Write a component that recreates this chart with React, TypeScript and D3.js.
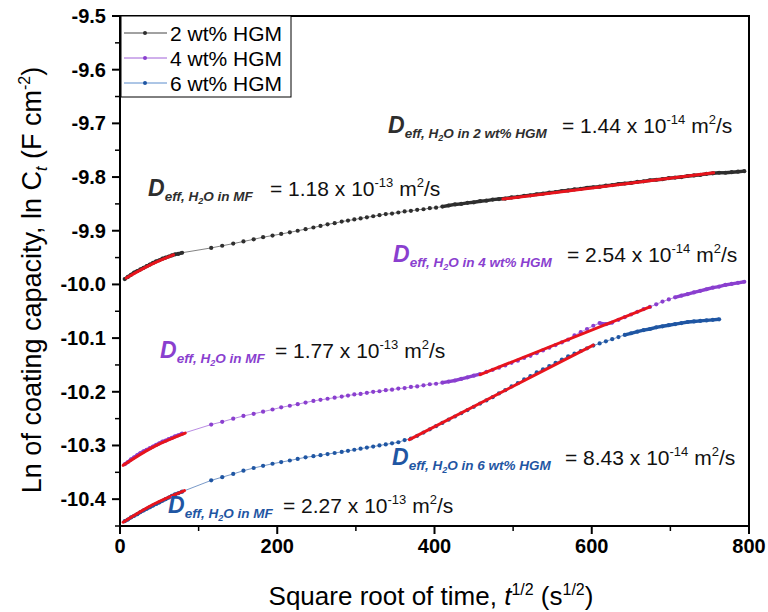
import React from "react";
import * as d3 from "d3";

const sqrtT = [
  6, 10, 14, 18, 22, 26, 30, 34, 38, 42, 46, 50, 54, 58, 62, 66, 70, 74, 79,
  116, 130, 144, 157, 170, 182, 194, 205, 216, 226, 236, 246, 255, 264, 273, 282, 290, 298, 306, 314,
  322, 330, 338, 346, 354, 362, 370, 378, 386, 394, 402, 410, 418, 426, 434, 442, 450,
  458, 466, 474, 482, 490, 498, 506, 514, 522, 530, 538, 546, 554, 562, 570, 578, 586, 594, 602, 610,
  618, 626, 634, 642, 650, 658, 666, 674, 682, 690, 698, 706, 714, 722, 730, 738, 746, 754, 762, 770,
  778, 786, 794,
];

const lnC2 = [
  -9.99, -9.986, -9.982, -9.978, -9.975, -9.972, -9.969, -9.966, -9.963, -9.96, -9.957, -9.955, -9.952,
  -9.95, -9.948, -9.946, -9.944, -9.943, -9.941,
  -9.932, -9.928, -9.924, -9.92, -9.916, -9.912, -9.909, -9.906, -9.903, -9.9, -9.897, -9.894, -9.891,
  -9.888, -9.886, -9.883, -9.881, -9.879, -9.877, -9.875, -9.873, -9.871, -9.869, -9.868, -9.866, -9.864,
  -9.863, -9.861, -9.86, -9.858, -9.857, -9.855, -9.853, -9.851, -9.85, -9.848, -9.847,
  -9.845, -9.844, -9.842, -9.841, -9.84, -9.838, -9.837, -9.835, -9.834, -9.832, -9.831, -9.829, -9.828,
  -9.826, -9.825, -9.823, -9.822, -9.82, -9.819, -9.818, -9.816, -9.815, -9.813, -9.812, -9.811, -9.809,
  -9.808, -9.806, -9.805, -9.804, -9.802, -9.801, -9.8, -9.798, -9.797, -9.796, -9.794, -9.793, -9.792,
  -9.792, -9.791, -9.79, -9.789,
];

const lnC4 = [
  -10.335, -10.331, -10.326, -10.322, -10.318, -10.314, -10.311, -10.308, -10.305, -10.302, -10.299,
  -10.296, -10.293, -10.291, -10.288, -10.286, -10.283, -10.281, -10.278,
  -10.261, -10.256, -10.25, -10.245, -10.241, -10.237, -10.233, -10.229, -10.226, -10.223, -10.22, -10.217,
  -10.215, -10.213, -10.211, -10.209, -10.207, -10.205, -10.204, -10.202, -10.2, -10.199, -10.197, -10.196,
  -10.194, -10.193, -10.191, -10.19, -10.188, -10.186, -10.185, -10.183, -10.181, -10.179, -10.176,
  -10.173, -10.17,
  -10.167, -10.163, -10.159, -10.155, -10.151, -10.146, -10.142, -10.137, -10.133, -10.128, -10.123,
  -10.118, -10.113, -10.108, -10.103, -10.095, -10.089, -10.083, -10.077, -10.072, -10.074, -10.071,
  -10.066, -10.061, -10.056, -10.051, -10.046, -10.042, -10.037, -10.032, -10.028, -10.024, -10.021,
  -10.018, -10.015, -10.012, -10.009, -10.006, -10.004, -10.001, -9.999, -9.997, -9.995,
];

const lnC6 = [
  -10.441, -10.438, -10.434, -10.431, -10.428, -10.424, -10.421, -10.418, -10.415, -10.412, -10.409,
  -10.406, -10.403, -10.4, -10.397, -10.394, -10.391, -10.389, -10.386,
  -10.365, -10.359, -10.353, -10.347, -10.342, -10.338, -10.334, -10.331, -10.328, -10.325, -10.322,
  -10.32, -10.318, -10.316, -10.314, -10.312, -10.31, -10.308, -10.306, -10.304, -10.302, -10.3, -10.298,
  -10.296, -10.294, -10.29, -10.287, -10.282, -10.276, -10.27, -10.264, -10.258, -10.252, -10.246, -10.24,
  -10.234, -10.228,
  -10.222, -10.216, -10.21, -10.203, -10.197, -10.19, -10.184, -10.177, -10.171, -10.164, -10.158, -10.152,
  -10.146, -10.14, -10.134, -10.129, -10.124, -10.119, -10.114, -10.11, -10.106, -10.102, -10.098,
  -10.094, -10.091, -10.088, -10.085, -10.083, -10.08, -10.078, -10.076, -10.074, -10.072, -10.07,
  -10.069, -10.068, -10.067, -10.066, -10.065,
];

// red linear-fit segments: [x list], [y list]
const fitX = [
  [8, 38, 68],
  [487, 755],
  [4, 42, 83],
  [458, 674],
  [4, 42, 82],
  [368, 602],
];
const fitY = [
  [-9.988, -9.964, -9.945],
  [-9.841, -9.792],
  [-10.337, -10.303, -10.277],
  [-10.168, -10.042],
  [-10.443, -10.41, -10.384],
  [-10.289, -10.113],
];

const seriesNames = ["2 wt% HGM", "4 wt% HGM", "6 wt% HGM"];
const seriesColors = ["#2e2e2e", "#8a3fcf", "#1f56a3"];
const legendLineColors = ["#444444", "#a060d8", "#5a8ccc"];

const xTicks = [0, 200, 400, 600, 800];
const xTickLabels = ["0", "200", "400", "600", "800"];
const yTicks = [-9.5, -9.6, -9.7, -9.8, -9.9, -10.0, -10.1, -10.2, -10.3, -10.4];
const yTickLabels = ["-9.5", "-9.6", "-9.7", "-9.8", "-9.9", "-10.0", "-10.1", "-10.2", "-10.3", "-10.4"];

// annotations
const annSub = ["2 wt% HGM", "MF", "4 wt% HGM", "MF", "6 wt% HGM", "MF"];
const annMant = ["1.44", "1.18", "2.54", "1.77", "8.43", "2.27"];
const annExp = ["-14", "-13", "-14", "-13", "-14", "-13"];
const annSeries = [0, 0, 1, 1, 2, 2];

const FONT = "'Liberation Sans', Arial, Helvetica, sans-serif";

const annPos = [
  { x: 388, y: 133, eq: 562 },
  { x: 148, y: 196, eq: 270 },
  { x: 393, y: 262, eq: 567 },
  { x: 160, y: 358, eq: 275 },
  { x: 392, y: 465, eq: 565 },
  { x: 168, y: 513, eq: 283 },
];

// where closely spaced markers merge into a continuous band
const BAND_BELOW = 100;
const BAND_FROM = 410;

export default function App() {
  const W = 768;
  const H = 612;
  const L = 120, R = 749, T = 16, B = 526;
  const x = d3.scaleLinear().domain([0, 800]).range([L, R]);
  const y = d3.scaleLinear().domain([-10.45, -9.5]).range([B, T]);

  const series = [lnC2, lnC4, lnC6];
  const line = d3
    .line<[number, number]>()
    .x((d) => x(d[0]))
    .y((d) => y(d[1]));

  const xMinor = [100, 300, 500, 700];
  const yMinor = d3.range(0, 10).map((i) => -9.55 - i * 0.1);

  return (
    <svg
      width={W}
      height={H}
      style={{ position: "absolute", left: 0, top: 0, background: "#fff" }}
      fontFamily={FONT}
    >
      <rect x={0} y={0} width={W} height={H} fill="#fff" />
      {/* data */}
      {series.map((vals, si) => {
        const pts: [number, number][] = vals.map((v, i) => [sqrtT[i], v]);
        const c = seriesColors[si];
        return (
          <g key={si}>
            {pts.slice(1).map((p, i) => {
              const a = pts[i];
              const x1 = x(a[0]), y1 = y(a[1]), x2 = x(p[0]), y2 = y(p[1]);
              const dist = Math.hypot(x2 - x1, y2 - y1);
              const dense = dist < 6.6 && (a[0] < BAND_BELOW || a[0] >= BAND_FROM);
              return (
                <line
                  key={"s" + i}
                  x1={x1}
                  y1={y1}
                  x2={x2}
                  y2={y2}
                  stroke={c}
                  strokeWidth={dense ? 3.4 : 0.8}
                  opacity={dense ? 1 : 0.75}
                />
              );
            })}
            {pts.map((p, i) => (
              <circle key={i} cx={x(p[0])} cy={y(p[1])} r={2.1} fill={c} />
            ))}
          </g>
        );
      })}
      {/* fits */}
      {fitX.map((fx, k) => {
        const pts: [number, number][] = fx.map((v, i) => [v, fitY[k][i]]);
        return (
          <path
            key={k}
            d={line.curve(d3.curveMonotoneX)(pts) || ""}
            fill="none"
            stroke="#e8141c"
            strokeWidth={3}
            strokeLinecap="round"
          />
        );
      })}

      {/* frame */}
      <rect x={L} y={T} width={R - L} height={B - T} fill="none" stroke="#000" strokeWidth={2} />

      {/* x ticks */}
      {xTicks.map((t, i) => (
        <g key={t}>
          <line x1={x(t)} x2={x(t)} y1={B} y2={B + 8} stroke="#000" strokeWidth={2} />
          <text x={x(t)} y={B + 27} textAnchor="middle" fontSize={20} fontWeight="bold">
            {xTickLabels[i]}
          </text>
        </g>
      ))}
      {xMinor.map((t) => (
        <line key={t} x1={x(t)} x2={x(t)} y1={B} y2={B + 5} stroke="#000" strokeWidth={1.5} />
      ))}
      {/* y ticks */}
      {yTicks.map((t, i) => (
        <g key={t}>
          <line x1={L - 8} x2={L} y1={y(t)} y2={y(t)} stroke="#000" strokeWidth={2} />
          <text x={L - 14} y={y(t) + 7} textAnchor="end" fontSize={20} fontWeight="bold">
            {yTickLabels[i]}
          </text>
        </g>
      ))}
      {yMinor.map((t) => (
        <line key={t} x1={L - 5} x2={L} y1={y(t)} y2={y(t)} stroke="#000" strokeWidth={1.5} />
      ))}

      {/* axis titles */}
      <text x={431} y={605} textAnchor="middle" fontSize={26}>
        Square root of time,{" "}
        <tspan fontStyle="italic">t</tspan>
        <tspan fontSize={16} dy={-10}>1/2</tspan>
        <tspan dy={10}> (s</tspan>
        <tspan fontSize={16} dy={-10}>1/2</tspan>
        <tspan dy={10}>)</tspan>
      </text>
      <text transform={`translate(41,280) rotate(-90)`} textAnchor="middle" fontSize={27}>
        Ln of coating capacity, ln C
        <tspan fontStyle="italic" fontSize={16} dy={6}>t</tspan>
        <tspan dy={-6}> (F cm</tspan>
        <tspan fontSize={16} dy={-11}>-2</tspan>
        <tspan dy={11}>)</tspan>
      </text>

      {/* legend */}
      <rect x={L + 1} y={T} width={170} height={81} fill="#fff" stroke="#000" strokeWidth={1} />
      {seriesNames.map((n, i) => {
        const cy = 33 + i * 25;
        return (
          <g key={n}>
            <line x1={124} x2={167} y1={cy} y2={cy} stroke={legendLineColors[i]} strokeWidth={1} />
            <circle cx={145} cy={cy} r={2} fill={seriesColors[i]} />
            <text x={170} y={cy + 8} fontSize={21}>
              {n}
            </text>
          </g>
        );
      })}

      {/* annotations */}
      {annPos.map((p, i) => {
        const c = seriesColors[annSeries[i]];
        return (
          <text key={i} x={p.x} y={p.y} fontSize={21}>
            <tspan fill={c} fontWeight="bold" fontStyle="italic" fontSize={23}>D</tspan>
            <tspan fill={c} fontWeight="bold" fontStyle="italic" fontSize={13.5} dy={5}>eff, H</tspan>
            <tspan fill={c} fontWeight="bold" fontStyle="italic" fontSize={9} dy={3}>2</tspan>
            <tspan fill={c} fontWeight="bold" fontStyle="italic" fontSize={13.5} dy={-3}>O in {annSub[i]}</tspan>
            <tspan x={p.eq} dy={-5} fill="#111">= {annMant[i]} x 10</tspan>
            <tspan fontSize={13} dy={-9} fill="#111">{annExp[i]}</tspan>
            <tspan dy={9} fill="#111"> m</tspan>
            <tspan fontSize={13} dy={-9} fill="#111">2</tspan>
            <tspan dy={9} fill="#111">/s</tspan>
          </text>
        );
      })}
    </svg>
  );
}
